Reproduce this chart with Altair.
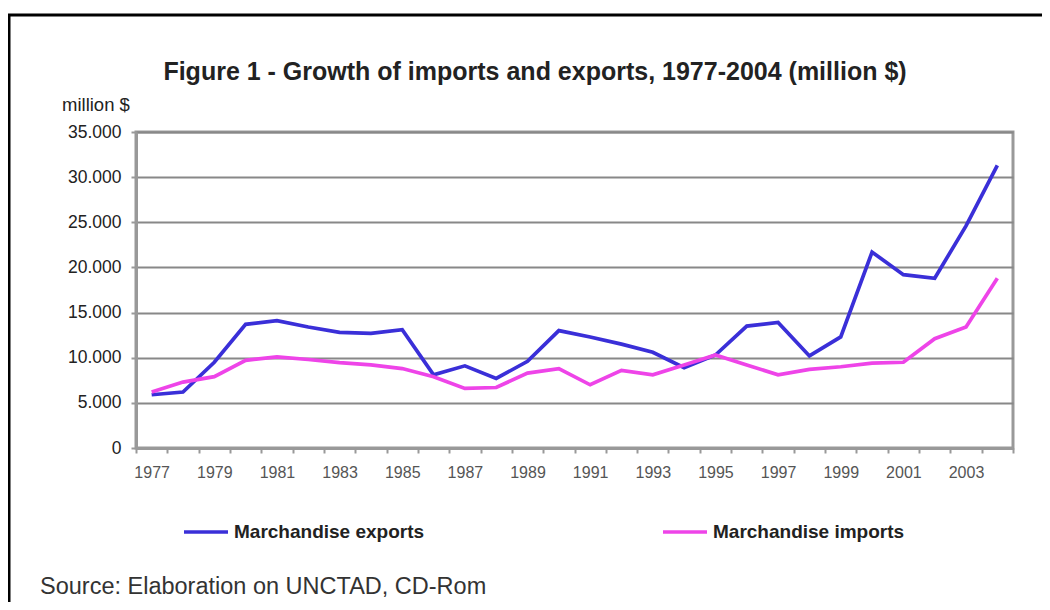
import altair as alt
import pandas as pd

# ---- data ----
years = list(range(1977, 2005))
exports = [5900, 6200, 9500, 13700, 14100, 13400, 12800, 12700, 13100, 8100,
           9100, 7700, 9600, 13000, 12300, 11500, 10600, 8900, 10300, 13500,
           13900, 10200, 12300, 21700, 19200, 18800, 24600, 31300]
imports = [6200, 7300, 7900, 9700, 10100, 9800, 9450, 9200, 8800, 7900,
           6600, 6700, 8300, 8800, 7000, 8600, 8100, 9200, 10300, 9200,
           8100, 8700, 9000, 9400, 9500, 12100, 13400, 18800]
series_names = ["Marchandise exports", "Marchandise imports"]
series_colors = ["#3a2fd8", "#ee44e8"]
y_ticks = [0, 5000, 10000, 15000, 20000, 25000, 30000, 35000]

title_text = "Figure 1 - Growth of imports and exports, 1977-2004 (million $)"
unit_text = "million $"
source_text = "Source: Elaboration on UNCTAD, CD-Rom"

df = pd.DataFrame({
    "year": years * 2,
    "value": exports + imports,
    "series": [series_names[0]] * len(years) + [series_names[1]] * len(years),
})

FONT = "Liberation Sans"
one = pd.DataFrame({"k": [0]})

lines = alt.Chart(df).mark_line(strokeWidth=3.7).encode(
    x=alt.X(
        "year:O",
        title=None,
        bandPosition=0.5,
        scale=alt.Scale(type="band", paddingInner=0, paddingOuter=0),
        axis=alt.Axis(
            labelAngle=0,
            tickBand="extent",
            labelExpr="datum.value % 2 == 1 ? datum.label : ''",
            labelFont=FONT,
            labelFontSize=16,
            labelColor="#555555",
            labelPadding=11,
            tickColor="#999999",
            tickSize=5,
            tickWidth=2,
            domainColor="#999999",
            domainWidth=3,
            grid=False,
        ),
    ),
    y=alt.Y(
        "value:Q",
        title=None,
        scale=alt.Scale(domain=[0, 35000], nice=False),
        axis=alt.Axis(
            values=y_ticks,
            labelExpr="replace(format(datum.value, ','), ',', '.')",
            labelFont=FONT,
            labelFontSize=17.5,
            labelColor="#222222",
            labelPadding=10,
            tickColor="#999999",
            tickSize=5,
            tickWidth=2,
            domainColor="#999999",
            domainWidth=3,
            grid=True,
            gridColor="#888888",
            gridWidth=2,
        ),
    ),
    color=alt.Color(
        "series:N",
        scale=alt.Scale(domain=series_names, range=series_colors),
        legend=alt.Legend(
            title=None,
            orient="none",
            legendX=46,
            legendY=376,
            direction="horizontal",
            symbolType="stroke",
            symbolSize=1936,
            symbolStrokeWidth=3.5,
            labelFont=FONT,
            labelFontSize=19,
            labelFontWeight="bold",
            labelColor="#222222",
            labelOffset=4,
            labelLimit=400,
            columnPadding=231,
        ),
    ),
)

title = alt.Chart(one).mark_text(
    text=title_text, font=FONT, fontSize=25, fontWeight="bold",
    color="#222222", align="center", baseline="alphabetic",
).encode(x=alt.value(399), y=alt.value(-52))

unit = alt.Chart(one).mark_text(
    text=unit_text, font=FONT, fontSize=18.5, color="#222222",
    align="left", baseline="alphabetic",
).encode(x=alt.value(-74), y=alt.value(-21))

source = alt.Chart(one).mark_text(
    text=source_text, font=FONT, fontSize=23.5, color="#333333",
    align="left", baseline="alphabetic",
).encode(x=alt.value(-96), y=alt.value(462))

top_border = alt.Chart(one).mark_rule(color="#000000", strokeWidth=3).encode(
    x=alt.value(-128), x2=alt.value(910), y=alt.value(-117)
)
left_border = alt.Chart(one).mark_rule(color="#000000", strokeWidth=3).encode(
    x=alt.value(-127), y=alt.value(-118), y2=alt.value(480)
)

chart = alt.layer(lines, title, unit, source, top_border, left_border).properties(
    width=877,
    height=316,
    autosize=alt.AutoSizeParams(type="none"),
    padding={"left": 128, "top": 124, "right": 29, "bottom": 154},
    background="white",
).configure_view(stroke="#999999", strokeWidth=3)

chart.save("out.html", embed_options={"renderer": "svg", "actions": False})
